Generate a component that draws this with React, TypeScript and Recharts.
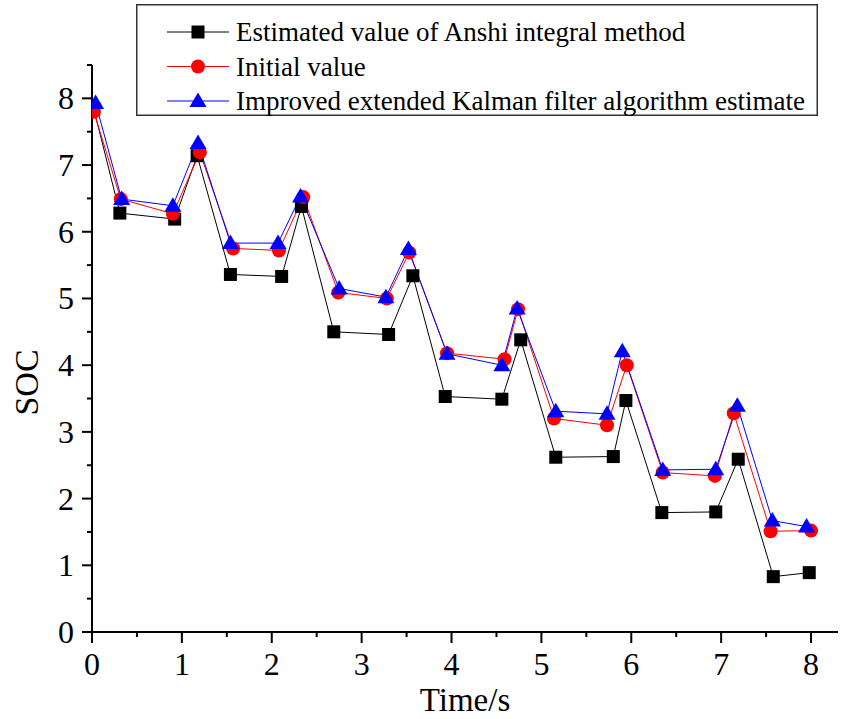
import { LineChart, Line, XAxis, YAxis, Legend, Label } from 'recharts';

const anshiX = [0.02, 0.31, 0.92, 1.17, 1.54, 2.11, 2.33, 2.69, 3.3, 3.57, 3.93, 4.56, 4.77, 5.16, 5.8, 5.94, 6.34, 6.94, 7.19, 7.58, 7.98];
const anshiY = [7.84, 6.28, 6.19, 7.14, 5.36, 5.33, 6.38, 4.5, 4.46, 5.34, 3.53, 3.49, 4.38, 2.62, 2.63, 3.47, 1.79, 1.8, 2.59, 0.83, 0.89];

const initialX = [0.02, 0.32, 0.9, 1.2, 1.57, 2.08, 2.35, 2.74, 3.28, 3.53, 3.95, 4.59, 4.74, 5.14, 5.73, 5.95, 6.35, 6.93, 7.14, 7.55, 8.0];
const initialY = [7.8, 6.49, 6.27, 7.19, 5.75, 5.72, 6.52, 5.09, 5.0, 5.69, 4.18, 4.09, 4.84, 3.2, 3.1, 4.0, 2.39, 2.34, 3.28, 1.51, 1.52];

const ekfX = [0.04, 0.33, 0.9, 1.18, 1.54, 2.07, 2.32, 2.75, 3.27, 3.52, 3.95, 4.56, 4.73, 5.16, 5.73, 5.9, 6.35, 6.94, 7.18, 7.57, 7.95];
const ekfY = [7.93, 6.49, 6.39, 7.33, 5.83, 5.83, 6.53, 5.15, 5.02, 5.74, 4.17, 4.0, 4.85, 3.31, 3.27, 4.21, 2.43, 2.44, 3.39, 1.67, 1.58];

const xTicks = [0, 0.5, 1, 1.5, 2, 2.5, 3, 3.5, 4, 4.5, 5, 5.5, 6, 6.5, 7, 7.5, 8];
const yTicks = [0, 0.5, 1, 1.5, 2, 2.5, 3, 3.5, 4, 4.5, 5, 5.5, 6, 6.5, 7, 7.5, 8, 8.5];

const seriesNames = [
  'Estimated value of Anshi integral method',
  'Initial value',
  'Improved extended Kalman filter algorithm estimate',
];

const zip = (xs: number[], ys: number[]) => xs.map((x, i) => ({ x, y: ys[i] }));

const anshiData = zip(anshiX, anshiY);
const initialData = zip(initialX, initialY);
const ekfData = zip(ekfX, ekfY);

const FONT = '"Liberation Serif", "Times New Roman", serif';

const Square = ({ cx, cy, fill }: any) => <rect x={cx - 6.5} y={cy - 6.5} width={13} height={13} fill={fill} />;
const Circle = ({ cx, cy, fill }: any) => <circle cx={cx} cy={cy} r={7} fill={fill} />;
const Triangle = ({ cx, cy, fill }: any) => (
  <polygon points={`${cx},${cy - 8.5} ${cx - 8.5},${cy + 6} ${cx + 8.5},${cy + 6}`} fill={fill} />
);

const dotOf = (Shape: any, fill: string) => (p: any) =>
  p.cx == null ? <g key={p.key ?? p.index} /> : <Shape key={p.key ?? p.index} cx={p.cx} cy={p.cy} fill={fill} />;

const XTick = ({ x, y, payload }: any) => {
  const major = Number.isInteger(payload.value);
  return (
    <g>
      <line x1={x} x2={x} y1={y} y2={y + (major ? 11 : 5)} stroke="#000" strokeWidth={2} />
      {major && (
        <text x={x} y={y + 43} textAnchor="middle" fontSize={32} fontFamily={FONT} fill="#000">
          {payload.value}
        </text>
      )}
    </g>
  );
};

const YTick = ({ x, y, payload }: any) => {
  const major = Number.isInteger(payload.value);
  return (
    <g>
      <line x1={x} x2={x - (major ? 10 : 5)} y1={y} y2={y} stroke="#000" strokeWidth={2} />
      {major && (
        <text x={x - 18} y={y + 11} textAnchor="end" fontSize={32} fontFamily={FONT} fill="#000">
          {payload.value}
        </text>
      )}
    </g>
  );
};

const legendRows = [
  { name: seriesNames[0], color: '#000', Shape: Square },
  { name: seriesNames[1], color: '#ff0000', Shape: Circle },
  { name: seriesNames[2], color: '#0000ff', Shape: Triangle },
];

const LegendBox = () => (
  <svg width={682} height={112} style={{ display: 'block' }}>
    <rect x={0.75} y={0.75} width={680.5} height={110.5} fill="#fff" stroke="#333" strokeWidth={1.5} />
    {legendRows.map((r, i) => {
      const cy = 28 + i * 34.5;
      return (
        <g key={r.name}>
          <line x1={31} x2={93} y1={cy} y2={cy} stroke={r.color} strokeWidth={1} />
          <r.Shape cx={62} cy={cy} fill={r.color} />
          <text x={100} y={cy + 9} fontSize={27} fontFamily={FONT} fill="#000">
            {r.name}
          </text>
        </g>
      );
    })}
  </svg>
);

export default function App() {
  return (
    <div style={{ position: 'absolute', left: 0, top: 0, width: 843, height: 719, background: '#fff' }}>
      <LineChart width={843} height={719} margin={{ top: 65, right: 5, bottom: 7, left: 32 }}>
        <XAxis
          type="number"
          dataKey="x"
          domain={[0, 8.3]}
          ticks={xTicks}
          interval={0}
          tickSize={0}
          tickMargin={0}
          tick={<XTick />}
          height={80}
          axisLine={{ stroke: '#000', strokeWidth: 2 }}
          allowDataOverflow
        >
          <Label value="Time/s" position="insideBottom" offset={1} style={{ fontSize: 33, fontFamily: FONT, fill: '#000' }} />
        </XAxis>
        <YAxis
          type="number"
          dataKey="y"
          domain={[0, 8.5]}
          ticks={yTicks}
          interval={0}
          tickSize={0}
          tickMargin={0}
          tick={<YTick />}
          width={60}
          axisLine={{ stroke: '#000', strokeWidth: 2 }}
          allowDataOverflow
        >
          <Label
            value="SOC"
            angle={-90}
            position="insideLeft"
            offset={0}
            dy={34}
            dx={-6}
            style={{ fontSize: 34, fontFamily: FONT, fill: '#000', textAnchor: 'middle' }}
          />
        </YAxis>
        <Legend
          layout="vertical"
          align="center"
          verticalAlign="middle"
          content={<LegendBox />}
          wrapperStyle={{ left: 136, top: 4, width: 682, height: 112 }}
        />
        <Line data={anshiData} dataKey="y" name={seriesNames[0]} type="linear" stroke="#000" strokeWidth={1}
          dot={dotOf(Square, '#000')} activeDot={false} isAnimationActive={false} />
        <Line data={initialData} dataKey="y" name={seriesNames[1]} type="linear" stroke="#ff0000" strokeWidth={1}
          dot={dotOf(Circle, '#ff0000')} activeDot={false} isAnimationActive={false} />
        <Line data={ekfData} dataKey="y" name={seriesNames[2]} type="linear" stroke="#0000ff" strokeWidth={1}
          dot={dotOf(Triangle, '#0000ff')} activeDot={false} isAnimationActive={false} />
      </LineChart>
    </div>
  );
}
